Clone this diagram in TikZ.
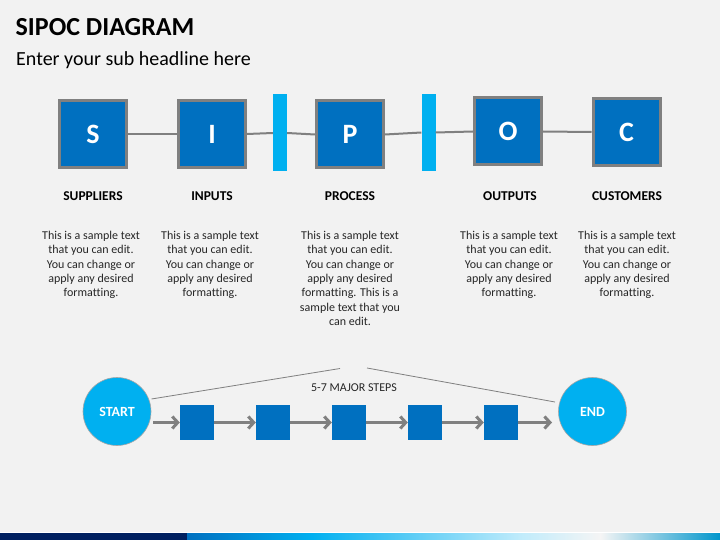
\documentclass[tikz,border=0pt]{standalone}
\usepackage{fontspec}
\setmainfont{Carlito}[Ligatures=NoCommon]
\usetikzlibrary{arrows.meta}
\definecolor{bg}{HTML}{F2F2F2}
\definecolor{boxblue}{HTML}{0070C0}
\definecolor{cyanbar}{HTML}{00B0F0}
\definecolor{linegray}{HTML}{808080}
\definecolor{navy}{HTML}{002060}
\definecolor{txt}{HTML}{262626}
\begin{document}
\begin{tikzpicture}[x=1pt,y=-1pt,
  letterbox/.style={draw=linegray, line width=3pt, fill=boxblue, minimum size=67pt, inner sep=0pt, text=white, font=\fontsize{28}{28}\selectfont\bfseries},
  barbox/.style={fill=cyanbar, draw=none, minimum width=14pt, minimum height=77pt, inner sep=0pt},
  link/.style={draw=linegray, line width=2pt},
  label/.style={font=\fontsize{13.5}{16}\selectfont\bfseries, text=black},
  body/.style={font=\fontsize{12}{14.4}\selectfont, text=txt, align=center, anchor=north},
  circ/.style={circle, fill=cyanbar, draw=linegray!70, line width=0.6pt, minimum size=68pt, inner sep=0pt, text=white, font=\fontsize{14}{16}\selectfont\bfseries},
  stepbox/.style={fill=boxblue, draw=none, minimum width=34pt, minimum height=35pt, inner sep=0pt},
  flow/.style={draw=linegray, line width=3pt, -{Straight Barb[length=5.5pt,width=12pt]}},
  thin/.style={draw=linegray, line width=0.8pt}
]
\useasboundingbox (0,0) rectangle (720,540);
\fill[bg] (0,0) rectangle (720,540);

% titles
\node[anchor=base west, inner sep=0pt, font=\fontsize{26}{28}\selectfont\bfseries] (title) at (15.5,36) {SIPOC DIAGRAM};
\node[anchor=base west, inner sep=0pt, font=\fontsize{20}{22}\selectfont, text=black] (sub) at (16,65.5) {Enter your sub headline here};

% top row
\node[letterbox] (S) at (93,134) {S};
\node[letterbox] (I) at (212,134) {I};
\node[barbox] (b1) at (280,133) {};
\node[letterbox] (P) at (350,134.5) {P};
\node[barbox] (b2) at (428.5,132.5) {};
\node[letterbox] (O) at (508,131.5) {O};
\node[letterbox] (C) at (626.5,132) {C};
\draw[link] (S.east) -- (I.west);
\draw[link] (I.east) -- (b1.west);
\draw[link] (b1.east) -- (P.west);
\draw[link] (P.east) -- (b2.west);
\draw[link] (b2.east) -- (O.west);
\draw[link] (O.east) -- (C.west);

% labels
\node[label] (lS) at (93,196) {SUPPLIERS};
\node[label] (lI) at (212,196) {INPUTS};
\node[label] (lP) at (350,196) {PROCESS};
\node[label] (lO) at (510,196) {OUTPUTS};
\node[label] (lC) at (627,196) {CUSTOMERS};

% body texts
\node[body] (tS) at (91,227.5) {This is a sample text\\that you can edit.\\You can change or\\apply any desired\\formatting.};
\node[body] (tI) at (210,227.5) {This is a sample text\\that you can edit.\\You can change or\\apply any desired\\formatting.};
\node[body] (tP) at (350,227.5) {This is a sample text\\that you can edit.\\You can change or\\apply any desired\\formatting. This is a\\sample text that you\\can edit.};
\node[body] (tO) at (509,227.5) {This is a sample text\\that you can edit.\\You can change or\\apply any desired\\formatting.};
\node[body] (tC) at (627,227.5) {This is a sample text\\that you can edit.\\You can change or\\apply any desired\\formatting.};

% bottom process
\node[circ] (start) at (117,411.5) {START};
\node[circ] (end) at (592.5,411.5) {END};
\node[stepbox] (s1) at (197,422.5) {};
\node[stepbox] (s2) at (273,422.5) {};
\node[stepbox] (s3) at (349,422.5) {};
\node[stepbox] (s4) at (425,422.5) {};
\node[stepbox] (s5) at (501,422.5) {};
\coordinate (a0) at (153,422.5);
\coordinate (e0) at (552,422.5);
\draw[flow] (a0) -- (s1.west);
\draw[flow] (s1.east) -- (s2.west);
\draw[flow] (s2.east) -- (s3.west);
\draw[flow] (s3.east) -- (s4.west);
\draw[flow] (s4.east) -- (s5.west);
\draw[flow] (s5.east) -- (e0);

\coordinate (apexL) at (340,368.5);
\coordinate (apexR) at (367,368);
\coordinate (lstart) at (151.5,399);
\coordinate (lend) at (555,402);
\draw[thin] (lstart) -- (apexL);
\draw[thin] (apexR) -- (lend);
\node[font=\fontsize{12}{14}\selectfont, text=txt] (steps) at (354,388) {5-7 MAJOR STEPS};

% bottom gradient bar
\fill[white] (0,531.5) rectangle (720,533);
\fill[navy] (0,533) rectangle (187,540);
\shade[left color=boxblue, right color=cyanbar] (187,533) rectangle (312,540);
\shade[left color=cyanbar, right color=cyanbar!25!white] (311.5,533) rectangle (520,540);
\shade[left color=cyanbar!25!white, right color=white!96!black] (519.5,533) rectangle (601,540);
\shade[left color=white!96!black, right color=cyanbar!85!black] (600.5,533) rectangle (720,540);
\end{tikzpicture}
\end{document}
